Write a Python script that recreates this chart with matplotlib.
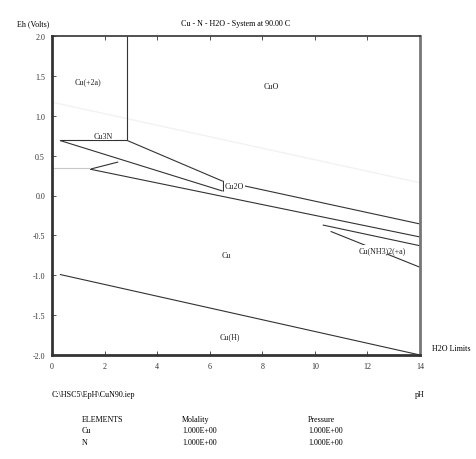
import matplotlib
matplotlib.use("Agg")
import matplotlib.pyplot as plt

plt.rcParams['font.family'] = ['Liberation Serif', 'DejaVu Serif']

# ---- data ----
title = "Cu - N - H2O - System at 90.00 C"
ylabel = "Eh (Volts)"
xlabel = "pH"
file_label = "C:\\HSC5\\EpH\\CuN90.iep"
x_ticks = [0, 2, 4, 6, 8, 10, 12, 14]
y_ticks = [2.0, 1.5, 1.0, 0.5, 0.0, -0.5, -1.0, -1.5, -2.0]

# boundary lines (pH, Eh)
cu2_cuo_ph = [2.86, 2.86]
cu2_cuo_eh = [2.0, 0.69]
cu2_cu3n_ph = [0.3, 2.86]
cu2_cu3n_eh = [0.69, 0.69]
cuo_cu3n_ph = [2.86, 6.49]
cuo_cu3n_eh = [0.69, 0.18]
cu3n_low_ph = [0.3, 6.49]
cu3n_low_eh = [0.69, 0.056]
cu3n_cu2o_ph = [6.49, 6.49]
cu3n_cu2o_eh = [0.18, 0.056]
cuo_cu2o_ph = [6.49, 14.0]
cuo_cu2o_eh = [0.18, -0.357]
cu2o_cu_ph = [1.45, 14.0]
cu2o_cu_eh = [0.33, -0.52]
short_ph = [1.45, 2.52]
short_eh = [0.33, 0.42]
gray_ph = [0.0, 1.45]
gray_eh = [0.345, 0.345]
amm_up_ph = [10.3, 14.0]
amm_up_eh = [-0.37, -0.63]
amm_lo_ph = [10.6, 14.0]
amm_lo_eh = [-0.45, -0.90]
cu_cuh_ph = [0.3, 14.0]
cu_cuh_eh = [-0.99, -2.0]
h2o_up_ph = [0.0, 14.0]
h2o_up_eh = [1.17, 0.16]

region_names = ["Cu(+2a)", "CuO", "Cu3N", "Cu2O", "Cu", "Cu(NH3)2(+a)", "Cu(H)"]
region_ph = [1.35, 8.35, 1.95, 6.95, 6.65, 12.55, 6.75]
region_eh = [1.43, 1.37, 0.75, 0.12, -0.75, -0.68, -1.77]

table_header = ["ELEMENTS", "Molality", "Pressure"]
table_elements = ["Cu", "N"]
table_molality = ["1.000E+00", "1.000E+00"]
table_pressure = ["1.000E+00", "1.000E+00"]

# ---- figure ----
W, H = 477, 460
fig = plt.figure(figsize=(W / 100, H / 100), dpi=100)
ax = fig.add_axes([52 / W, 1 - 356 / H, (420 - 52) / W, (356 - 37) / H])
ax.set_xlim(0, 14)
ax.set_ylim(-2.0, 2.0)

lc = '#333333'
lw = 0.8
ax.plot(h2o_up_ph, h2o_up_eh, color='#f2f2f2', lw=1.0)
for xs, ys in [(cu2_cuo_ph, cu2_cuo_eh), (cu2_cu3n_ph, cu2_cu3n_eh),
               (cuo_cu3n_ph, cuo_cu3n_eh), (cu3n_low_ph, cu3n_low_eh),
               (cu3n_cu2o_ph, cu3n_cu2o_eh), (cuo_cu2o_ph, cuo_cu2o_eh),
               (cu2o_cu_ph, cu2o_cu_eh), (short_ph, short_eh),
               (amm_up_ph, amm_up_eh), (amm_lo_ph, amm_lo_eh),
               (cu_cuh_ph, cu_cuh_eh)]:
    ax.plot(xs, ys, color=lc, lw=lw, solid_capstyle='butt')
ax.plot(gray_ph, gray_eh, color='#c8c8c8', lw=0.8)

for name, x, y in zip(region_names, region_ph, region_eh):
    ax.text(x, y, name, fontsize=5.8, ha='center', va='center', color='#222222',
            bbox=dict(facecolor='white', edgecolor='none', pad=0.5) if name in ("Cu3N", "Cu2O", "Cu(NH3)2(+a)") else None)

ax.set_xticks(x_ticks)
ax.set_xticklabels([str(v) for v in x_ticks])
ax.set_yticks(y_ticks)
ax.set_yticklabels([f"{v:.1f}" for v in y_ticks])
ax.tick_params(direction='in', length=3, width=0.6, labelsize=5.8, colors='#333333',
               top=True, right=False, pad=5)
ax.minorticks_off()
for s in ax.spines.values():
    s.set_color('#333333')
ax.spines['left'].set_linewidth(2.0)
ax.spines['bottom'].set_linewidth(2.0)
ax.spines['top'].set_linewidth(1.2)
ax.spines['right'].set_linewidth(2.0)
ax.spines['right'].set_color('#777777')

fs = 5.8
fig.text(17 / W, 1 - 24 / H, ylabel, fontsize=fs, ha='left', va='center')
fig.text(236 / W, 1 - 24 / H, title, fontsize=fs, ha='center', va='center')
fig.text(432 / W, 1 - 349 / H, "H2O Limits", fontsize=fs, ha='left', va='center')
fig.text(52 / W, 1 - 395 / H, file_label, fontsize=fs, ha='left', va='center')
fig.text(415 / W, 1 - 395 / H, xlabel, fontsize=fs, ha='left', va='center')

col_x = [82, 182, 308]
fig.text(col_x[0] / W, 1 - 420 / H, table_header[0], fontsize=fs, ha='left', va='center')
fig.text(col_x[1] / W, 1 - 420 / H, table_header[1], fontsize=fs, ha='left', va='center')
fig.text(col_x[2] / W, 1 - 420 / H, table_header[2], fontsize=fs, ha='left', va='center')
for i, (el, mo, pr) in enumerate(zip(table_elements, table_molality, table_pressure)):
    yy = 1 - (431 + 12 * i) / H
    fig.text(col_x[0] / W, yy, el, fontsize=fs, ha='left', va='center')
    fig.text(col_x[1] / W, yy, mo, fontsize=fs, ha='left', va='center')
    fig.text(col_x[2] / W, yy, pr, fontsize=fs, ha='left', va='center')

fig.savefig("out.png", dpi=100)
